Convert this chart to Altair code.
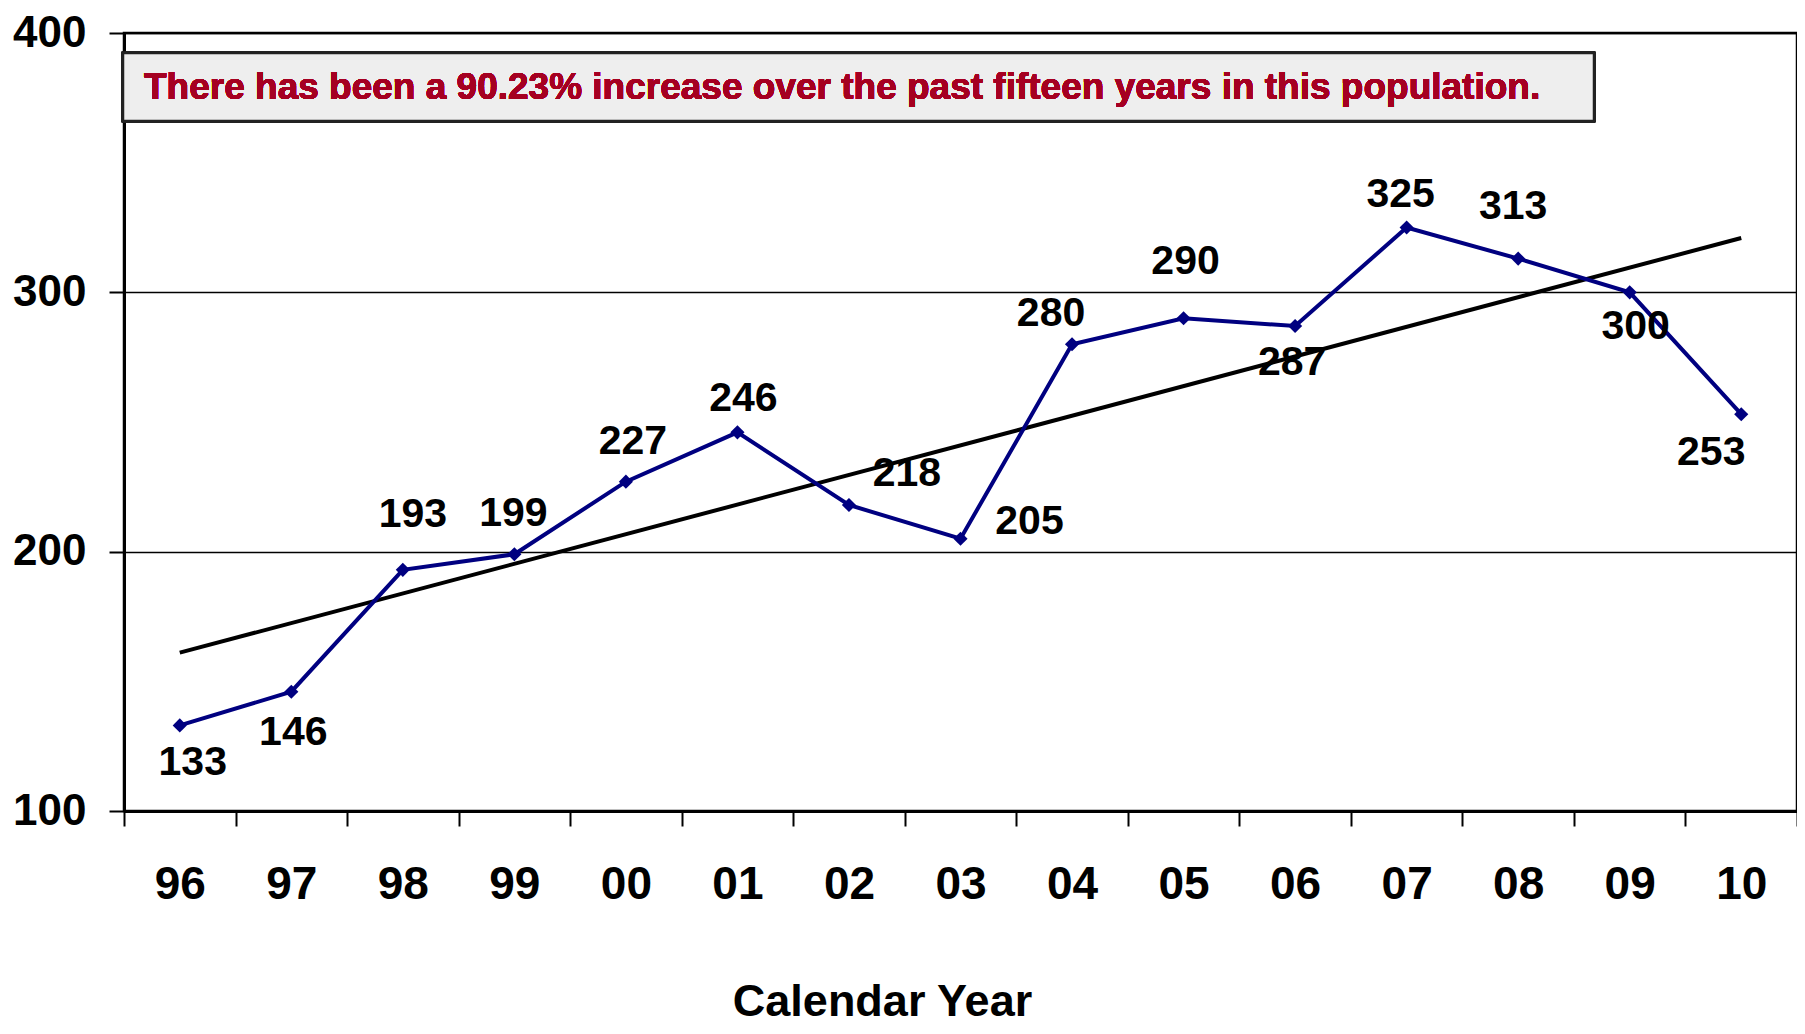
import altair as alt
import pandas as pd

years = ["96", "97", "98", "99", "00", "01", "02", "03", "04", "05", "06", "07", "08", "09", "10"]
values = [133, 146, 193, 199, 227, 246, 218, 205, 280, 290, 287, 325, 313, 300, 253]
y_ticks = [100, 200, 300, 400]
annotation = "There has been a 90.23% increase over the past fifteen years in this population."
x_title = "Calendar Year"

# label placement (pixels) for each data label
label_dx = [13, 2, 10, -1, 7, 6, 58, 69, -21, 2, -3, -6, -5, 6, -30]
label_dy = [38, 41, -55, -40, -40, -33, -31, -17, -30, -56, 37, -33, -52, 35, 39]

FONT = "Liberation Sans, Arial, sans-serif"
NAVY = "#000080"

df = pd.DataFrame({"year": years, "value": values, "idx": list(range(len(years)))})

W, H = 1673, 778

xscale = alt.Scale(type="band", domain=years, paddingInner=0, paddingOuter=0)
yscale = alt.Scale(domain=[100, 400], nice=False, zero=False)

xenc = alt.X(
    "year:O", scale=xscale, bandPosition=0.5,
    axis=alt.Axis(
        tickBand="extent", tickSize=15, tickWidth=2, tickColor="black",
        domainColor="black", domainWidth=3, labelAngle=0,
        labelFont=FONT, labelFontSize=46, labelFontWeight="bold", labelColor="black",
        labelBaseline="middle", labelAlign="center", labelPadding=58,
        title=x_title, titleFont=FONT, titleFontSize=45,
        titleFontWeight="bold", titleColor="black", titleBaseline="middle",
        titleX=758, titleY=190,
        grid=False,
    ),
)
yenc = alt.Y(
    "value:Q", scale=yscale,
    axis=alt.Axis(
        values=y_ticks, grid=True, gridColor="black", gridWidth=1.5,
        domainColor="black", domainWidth=3, tickColor="black", tickSize=15, tickWidth=2,
        labelFont=FONT, labelFontSize=44, labelFontWeight="bold", labelColor="black",
        labelPadding=23, title=None,
    ),
)

base = alt.Chart(df)

line = base.mark_line(color=NAVY, strokeWidth=4).encode(x=xenc, y=yenc)
pts = base.mark_point(shape="diamond", filled=True, color=NAVY, size=200, opacity=1).encode(x=xenc, y=yenc)

label_expr = "[" + ",".join("'%s'" % y for y in years) + "][datum.idx]"
trend = (
    base.transform_regression("idx", "value", method="linear")
    .transform_calculate(year=label_expr)
    .mark_line(color="black", strokeWidth=4)
    .encode(x=alt.X("year:O", scale=xscale, bandPosition=0.5), y=alt.Y("value:Q", scale=yscale))
)

labels = []
for i, yr in enumerate(years):
    labels.append(
        base.transform_filter(alt.datum.year == yr)
        .mark_text(font=FONT, fontSize=41, fontWeight="bold", color="black",
                   dx=label_dx[i], dy=label_dy[i], baseline="middle", align="center")
        .encode(x=alt.X("year:O", scale=xscale, bandPosition=0.5),
                y=alt.Y("value:Q", scale=yscale), text="value:Q")
    )

box = base.mark_rect(fill="#EEEEEE", stroke="#222222", strokeWidth=2.5).encode(
    x=alt.value(-1), x2=alt.value(1470), y=alt.value(20), y2=alt.value(88)
)
note = base.mark_text(
    text=annotation, font=FONT, fontSize=37, fontWeight="bold",
    color="#A50021", align="left", baseline="middle"
).encode(x=alt.value(20), y=alt.value(55))

chart = alt.layer(trend, line, pts, *labels, box, note).properties(
    width=W, height=H,
    autosize=alt.AutoSizeParams(type="none"),
    padding={"left": 116, "top": 25, "right": 0, "bottom": 215},
).configure_view(stroke="black", strokeWidth=2.5)

chart.save("out.html", embed_options={"renderer": "svg", "actions": False})
